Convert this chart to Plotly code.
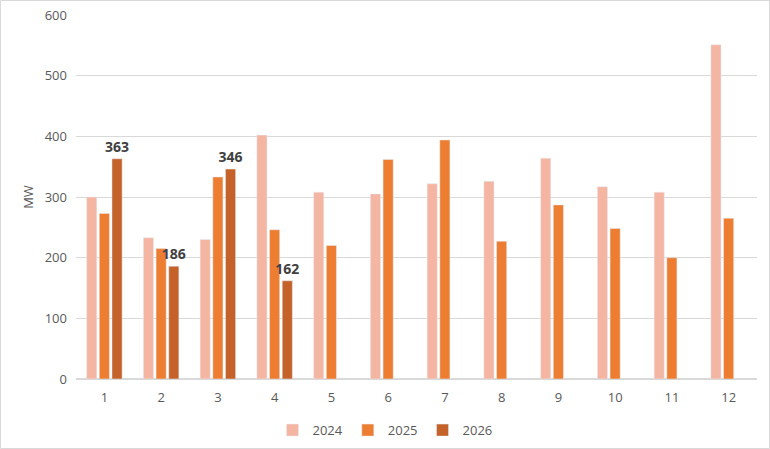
import plotly.graph_objects as go

months = ["1", "2", "3", "4", "5", "6", "7", "8", "9", "10", "11", "12"]
v2024 = [300, 233, 230, 402, 308, 305, 322, 326, 364, 317, 308, 551]
v2025 = [273, 215, 333, 246, 220, 362, 394, 227, 287, 248, 200, 265]
v2026 = [363, 186, 346, 162, None, None, None, None, None, None, None, None]

font_family = "Segoe UI, Open Sans, Noto Sans, sans-serif"

fig = go.Figure()
fig.add_trace(go.Bar(name="2024", x=months, y=v2024, marker_color="#F4B6A2"))
fig.add_trace(go.Bar(name="2025", x=months, y=v2025, marker_color="#ED7D31"))
fig.add_trace(go.Bar(name="2026", x=months, y=v2026, marker_color="#C4622A",
                     texttemplate="%{y}", textposition="outside", cliponaxis=False,
                     constraintext="none",
                     textfont=dict(family=font_family, size=14, color="#404040", weight="bold")))

fig.update_layout(
    width=770, height=449,
    margin=dict(l=76, r=13, t=15, b=70, autoexpand=False),
    paper_bgcolor="white", plot_bgcolor="white",
    barmode="group", bargap=0.33, bargroupgap=0.2,
    font=dict(family=font_family, size=13, color="#595959"),
    showlegend=True,
    legend=dict(orientation="h", xref="container", yref="container",
                x=0.5, xanchor="center", y=0.042, yanchor="middle",
                font=dict(size=13, color="#595959"), itemwidth=30),
    xaxis=dict(showgrid=False, showline=True, linecolor="#D9D9D9", linewidth=1,
               ticks="", ticklabelstandoff=6, tickfont=dict(size=13, color="#595959")),
    yaxis=dict(range=[0, 600], dtick=100, showgrid=True, gridcolor="#D9D9D9", gridwidth=1,
               zeroline=True, zerolinecolor="#D9D9D9", showline=False, ticks="",
               ticklabelstandoff=8, tickfont=dict(size=13, color="#595959"),
               title=dict(text="MW", font=dict(size=13, color="#595959"), standoff=8)),
    shapes=[dict(type="rect", xref="paper", yref="paper",
                 x0=(0.5 - 76) / 681, x1=(769.5 - 76) / 681,
                 y0=(379 - 448.5) / 364, y1=(379 - 0.5) / 364,
                 line=dict(color="#D9D9D9", width=1), fillcolor="rgba(0,0,0,0)", layer="below")],
)

fig.write_html("out.html")
